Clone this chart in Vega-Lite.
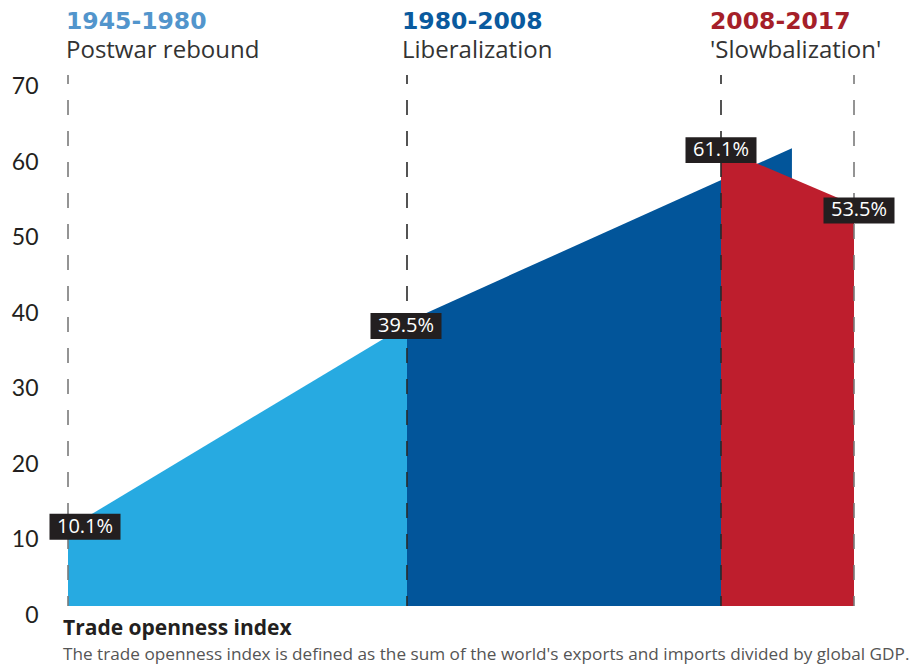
{
  "$schema": "https://vega.github.io/schema/vega-lite/v6.json",
  "width": 868,
  "height": 606,
  "autosize": {"type": "none"},
  "padding": {"left": 45, "top": 0, "right": 0, "bottom": 58},
  "background": "white",
  "config": {
    "view": {"stroke": null},
    "font": "Open Sans",
    "axisY": {"domain": false, "ticks": false, "grid": false, "labelFontSize": 23, "labelPadding": 7, "labelOffset": 9, "labelColor": "#231f20", "labelFont": "Lato", "title": null}
  },
  "title": {
    "text": "Trade openness index",
    "subtitle": "The trade openness index is defined as the sum of the world's exports and imports divided by global GDP.",
    "orient": "bottom",
    "anchor": "start",
    "frame": "group",
    "dx": 18,
    "offset": -9,
    "font": "Open Sans",
    "fontSize": 21,
    "fontWeight": "bold",
    "color": "#231f20",
    "subtitleFont": "Open Sans",
    "subtitleFontSize": 17.2,
    "subtitleColor": "#555555",
    "subtitlePadding": 7
  },
  "datasets": {
    "areas": [
      {"period": "1945-1980", "year": 1945, "value": 10.3},
      {"period": "1945-1980", "year": 1980, "value": 37.3},
      {"period": "1980-2008", "year": 1980, "value": 37.7},
      {"period": "1980-2008", "year": 2012.8, "value": 60.7},
      {"period": "2008-2017", "year": 2008, "value": 60.7},
      {"period": "2008-2017", "year": 2017, "value": 53.2}
    ],
    "labels": [
      {"year": 1945, "value": 10.1, "label": "10.1%"},
      {"year": 1980, "value": 39.5, "label": "39.5%"},
      {"year": 2008, "value": 61.1, "label": "61.1%"},
      {"year": 2017, "value": 53.5, "label": "53.5%"}
    ],
    "dividers": [
      {"year": 1945}, {"year": 1980}, {"year": 2008}, {"year": 2017}
    ],
    "periods": [
      {"year": 1945, "title": "1945-1980", "desc": "Postwar rebound"},
      {"year": 1980, "title": "1980-2008", "desc": "Liberalization"},
      {"year": 2008, "title": "2008-2017", "desc": "'Slowbalization'"}
    ]
  },
  "layer": [
    {
      "data": {"name": "areas"},
      "transform": [{"filter": "datum.period == '1945-1980'"}],
      "mark": {"type": "area", "color": "#27aae1", "opacity": 1},
      "encoding": {
        "x": {"field": "year", "type": "quantitative", "scale": {"domain": [1945, 1980, 2008, 2017], "range": [23, 362, 676, 809], "nice": false, "zero": false}, "axis": null},
        "y": {"field": "value", "type": "quantitative", "stack": null, "scale": {"domain": [0, 80.34], "nice": false}, "axis": {"values": [0, 10, 20, 30, 40, 50, 60, 70], "title": null}}
      }
    },
    {
      "data": {"name": "areas"},
      "transform": [{"filter": "datum.period == '1980-2008'"}],
      "mark": {"type": "area", "color": "#02559a", "opacity": 1},
      "encoding": {
        "x": {"field": "year", "type": "quantitative", "axis": null},
        "y": {"field": "value", "type": "quantitative", "stack": null, "axis": {"values": [0, 10, 20, 30, 40, 50, 60, 70], "title": null}}
      }
    },
    {
      "data": {"name": "areas"},
      "transform": [{"filter": "datum.period == '2008-2017'"}],
      "mark": {"type": "area", "color": "#be1e2d", "opacity": 1},
      "encoding": {
        "x": {"field": "year", "type": "quantitative", "axis": null},
        "y": {"field": "value", "type": "quantitative", "stack": null, "axis": {"values": [0, 10, 20, 30, 40, 50, 60, 70], "title": null}}
      }
    },
    {
      "data": {"name": "dividers"},
      "mark": {"type": "rule", "strokeWidth": 1.6, "strokeDash": [15, 16], "strokeDashOffset": 6},
      "encoding": {
        "x": {"field": "year", "type": "quantitative", "axis": null},
        "y": {"datum": 70.4, "type": "quantitative", "axis": {"values": [0, 10, 20, 30, 40, 50, 60, 70], "title": null}},
        "y2": {"datum": 0},
        "stroke": {"field": "year", "type": "ordinal", "scale": {"domain": [1945, 1980, 2008, 2017], "range": ["#7a7a7a", "#2a2a2a", "#2a2a2a", "#7a7a7a"]}, "legend": null}
      }
    },
    {
      "data": {"name": "labels"},
      "mark": {
        "type": "point",
        "shape": "M-1,-0.366L1,-0.366L1,0.366L-1,0.366Z",
        "size": 5041,
        "filled": true,
        "color": "#231f20",
        "opacity": 1,
        "strokeWidth": 0,
        "xOffset": {"expr": "datum.year == 1945 ? 17 : datum.year == 1980 ? -1 : datum.year == 2008 ? 0 : 5"},
        "yOffset": {"expr": "datum.year == 1945 ? -3 : datum.year == 1980 ? 18 : datum.year == 2008 ? 5 : 8"}
      },
      "encoding": {
        "x": {"field": "year", "type": "quantitative", "axis": null},
        "y": {"field": "value", "type": "quantitative", "axis": {"values": [0, 10, 20, 30, 40, 50, 60, 70], "title": null}}
      }
    },
    {
      "data": {"name": "labels"},
      "mark": {
        "type": "text",
        "font": "Open Sans",
        "fontSize": 20,
        "color": "white",
        "align": "center",
        "baseline": "middle",
        "xOffset": {"expr": "datum.year == 1945 ? 17 : datum.year == 1980 ? -1 : datum.year == 2008 ? 0 : 5"},
        "yOffset": {"expr": "datum.year == 1945 ? -3 : datum.year == 1980 ? 18 : datum.year == 2008 ? 5 : 8"}
      },
      "encoding": {
        "x": {"field": "year", "type": "quantitative", "axis": null},
        "y": {"field": "value", "type": "quantitative", "axis": {"values": [0, 10, 20, 30, 40, 50, 60, 70], "title": null}},
        "text": {"field": "label"}
      }
    },
    {
      "data": {"name": "periods"},
      "mark": {
        "type": "text",
        "font": "DejaVu Sans",
        "fontSize": 23.5,
        "fontWeight": "bold",
        "align": "left",
        "baseline": "alphabetic",
        "xOffset": {"expr": "datum.year == 1945 ? -2 : datum.year == 1980 ? -5 : -11"}
      },
      "encoding": {
        "x": {"field": "year", "type": "quantitative", "axis": null},
        "y": {"datum": 76.5, "type": "quantitative", "axis": {"values": [0, 10, 20, 30, 40, 50, 60, 70], "title": null}},
        "text": {"field": "title"},
        "color": {"field": "title", "type": "nominal", "scale": {"domain": ["1945-1980", "1980-2008", "2008-2017"], "range": ["#5295cc", "#0a5a9e", "#a51f29"]}, "legend": null}
      }
    },
    {
      "data": {"name": "periods"},
      "mark": {
        "type": "text",
        "font": "Open Sans",
        "fontSize": 24,
        "color": "#333333",
        "align": "left",
        "baseline": "alphabetic",
        "xOffset": {"expr": "datum.year == 1945 ? -2 : datum.year == 1980 ? -5 : -11"}
      },
      "encoding": {
        "x": {"field": "year", "type": "quantitative", "axis": null},
        "y": {"datum": 72.7, "type": "quantitative", "axis": {"values": [0, 10, 20, 30, 40, 50, 60, 70], "title": null}},
        "text": {"field": "desc"}
      }
    }
  ]
}
